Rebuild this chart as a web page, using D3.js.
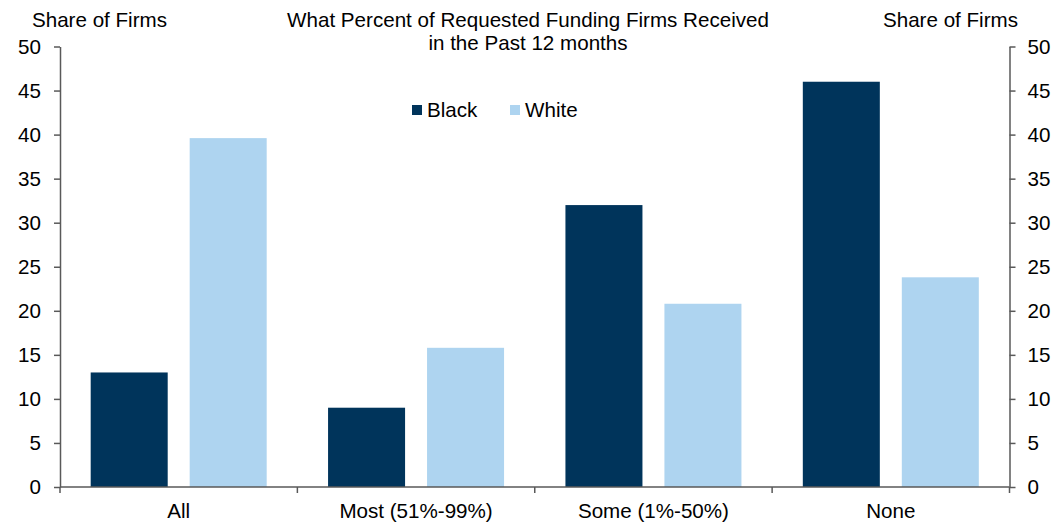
<!DOCTYPE html>
<html><head><meta charset="utf-8">
<script src="https://cdn.jsdelivr.net/npm/d3@7"></script>
<style>body{margin:0;background:#fff;}svg{display:block;font-family:"Liberation Sans",Arial,sans-serif;}</style>
</head><body>
<svg id="c" width="1064" height="527"></svg>
<script>
const categories = ["All", "Most (51%-99%)", "Some (1%-50%)", "None"];
const seriesNames = ["Black", "White"];
const blackValues = [13, 9, 32, 46];
const whiteValues = [39.6, 15.8, 20.8, 23.8];
const yTicks = [0, 5, 10, 15, 20, 25, 30, 35, 40, 45, 50];
const colors = {Black: "#00345b", White: "#aed4f0"};

(function () {
const svg = d3.select("#c");
const mLeft = 60, mRight = 1009.5, mTop = 46.5, mBottom = 487;
const x = d3.scaleBand().domain(categories).range([mLeft, mRight]).paddingInner(0).paddingOuter(0);
const xs = d3.scaleBand().domain(seriesNames).range([0, x.bandwidth()]).paddingInner(0.222).paddingOuter(0.31);
const y = d3.scaleLinear().domain([0, 50]).range([mBottom, mTop]);
const axisColor = "#595959";
const fs = "20.6px";

const series = {Black: blackValues, White: whiteValues};
seriesNames.forEach(s => {
  svg.append("g").selectAll("rect").data(categories).enter().append("rect")
    .attr("x", d => x(d) + xs(s))
    .attr("width", xs.bandwidth())
    .attr("y", (d, i) => y(series[s][i]))
    .attr("height", (d, i) => y(0) - y(series[s][i]))
    .attr("fill", colors[s]);
});

function styleAxis(g) {
  g.selectAll("path, line").attr("stroke", axisColor).attr("stroke-width", 1.5);
  g.selectAll("text").attr("fill", "#000").style("font-size", fs).style("font-family", "Liberation Sans, Arial, sans-serif");
}
const yl = svg.append("g").attr("transform", `translate(${mLeft},0)`)
  .call(d3.axisLeft(y).tickValues(yTicks).tickSize(6).tickSizeOuter(0).tickPadding(13));
styleAxis(yl);
const yr = svg.append("g").attr("transform", `translate(${mRight},0)`)
  .call(d3.axisRight(y).tickValues(yTicks).tickSize(6).tickSizeOuter(0).tickPadding(12));
styleAxis(yr);

const xb = svg.append("g").attr("transform", `translate(0,${mBottom})`);
xb.append("line").attr("x1", mLeft).attr("x2", mRight).attr("stroke", axisColor).attr("stroke-width", 1.5);
const bounds = categories.map(c => x(c)).concat([x(categories[categories.length-1]) + x.bandwidth()]);
xb.selectAll("line.tk").data(bounds).enter().append("line").attr("class", "tk")
  .attr("x1", d => d).attr("x2", d => d).attr("y1", 0).attr("y2", 6)
  .attr("stroke", axisColor).attr("stroke-width", 1.5);
xb.selectAll("text").data(categories).enter().append("text")
  .attr("x", d => x(d) + x.bandwidth() / 2).attr("y", 31)
  .attr("text-anchor", "middle").style("font-size", fs).text(d => d);

svg.append("text").attr("x", 99.5).attr("y", 27).attr("text-anchor", "middle").style("font-size", fs).text("Share of Firms");
svg.append("text").attr("x", 950.5).attr("y", 27).attr("text-anchor", "middle").style("font-size", fs).text("Share of Firms");

const title = svg.append("text").attr("x", 528).attr("text-anchor", "middle").style("font-size", fs);
title.append("tspan").attr("x", 528).attr("y", 27).text("What Percent of Requested Funding Firms Received");
title.append("tspan").attr("x", 528).attr("y", 49.5).text("in the Past 12 months");

const legendX = [412, 510];
const lg = svg.append("g");
seriesNames.forEach((s, i) => {
  lg.append("rect").attr("x", legendX[i]).attr("y", 105).attr("width", 10).attr("height", 10).attr("fill", colors[s]);
  lg.append("text").attr("x", legendX[i] + 15).attr("y", 116.5).style("font-size", fs).text(s);
});
})();
</script>
</body></html>
